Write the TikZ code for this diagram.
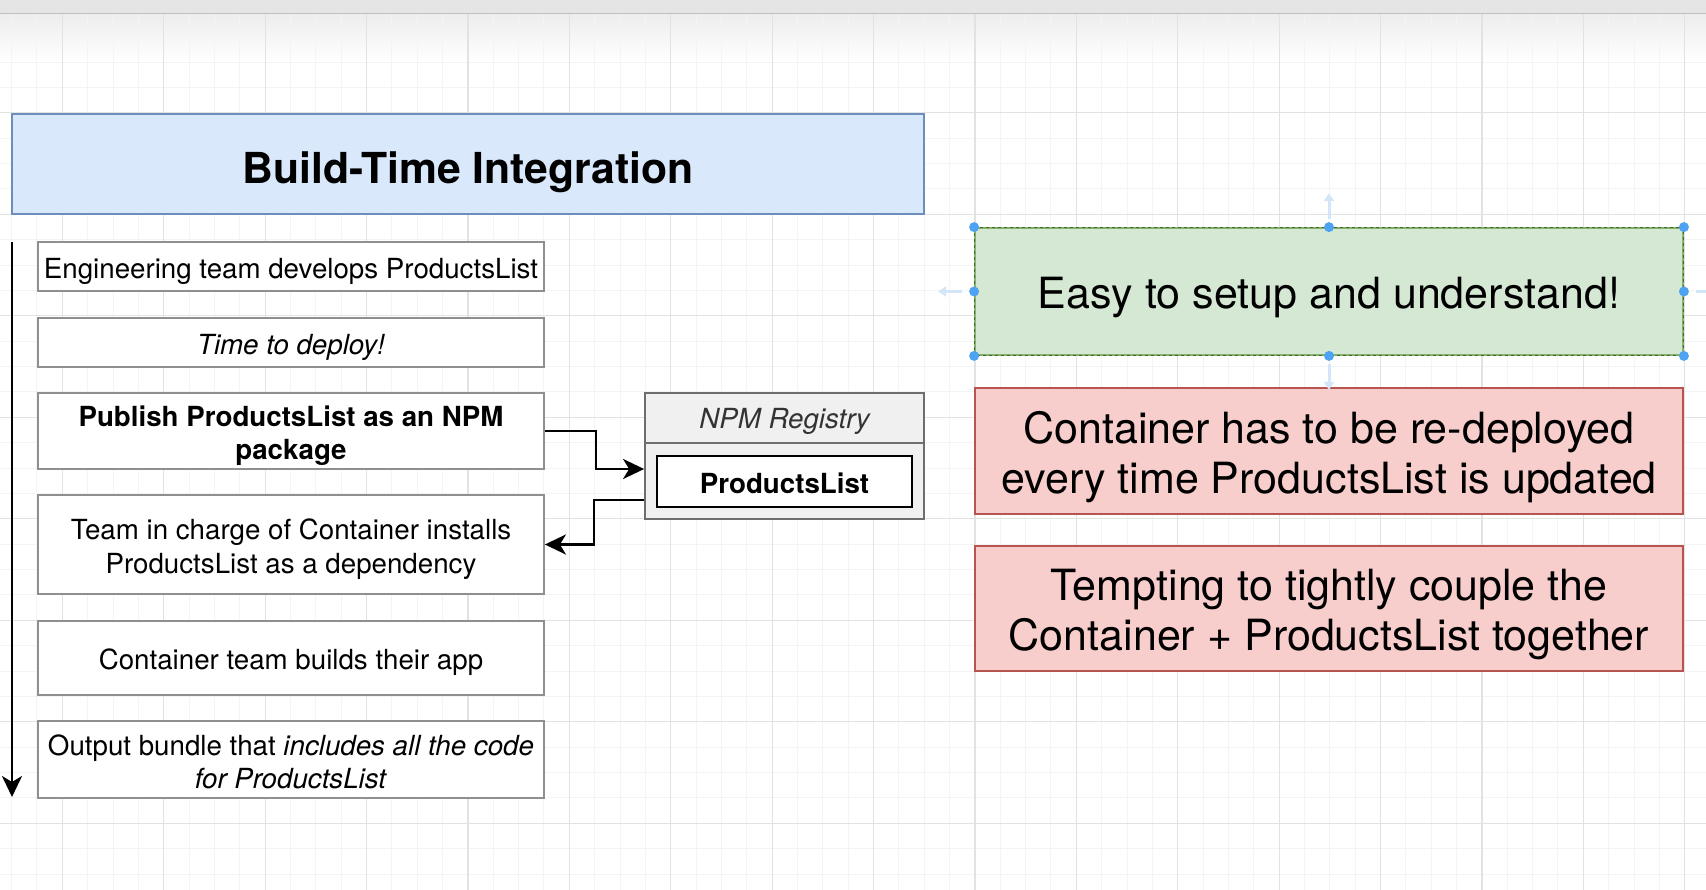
\documentclass[tikz,border=0pt]{standalone}
\usepackage{fontspec}
\setmainfont{TeX Gyre Heros}
\usetikzlibrary{arrows.meta,calc}
\definecolor{bluefill}{HTML}{DAE8FC}
\definecolor{bluedraw}{HTML}{6C8EBF}
\definecolor{greenfill}{HTML}{D5E8D4}
\definecolor{greendraw}{HTML}{82B366}
\definecolor{redfill}{HTML}{F8CECC}
\definecolor{reddraw}{HTML}{B85450}
\definecolor{stepgray}{HTML}{8F8F8F}
\definecolor{npmfill}{HTML}{F0F0F0}
\definecolor{npmdraw}{HTML}{6E6E6E}
\definecolor{npmtext}{HTML}{333333}
\definecolor{handle}{HTML}{4DA3F2}
\definecolor{ghostblue}{HTML}{D3E6F8}
\definecolor{gridminor}{HTML}{F4F4F4}
\definecolor{gridmajor}{HTML}{E2E2E2}
\begin{document}
\begin{tikzpicture}[x=1pt,y=-1pt,
  stepbox/.style={draw=stepgray,line width=1.8pt,fill=white,minimum width=506pt,inner sep=0pt},
  steptext/.style={inner sep=0pt,align=center,yshift=-4.5pt,font=\fontsize{27.7}{33.5}\selectfont},
  bigbox/.style={line width=1.8pt,minimum width=708pt,inner sep=0pt},
  bigtext/.style={inner sep=0pt,align=center,yshift=-6.5pt,font=\fontsize{43}{50}\selectfont},
  conn/.style={line width=2.7pt,-{Stealth[length=21pt,width=20pt,inset=6pt]}},
  ghost/.style={ghostblue,line width=3pt,-{Triangle[length=8pt,width=10pt]}},
  minorline/.style={gridminor,line width=1pt},
  majorline/.style={gridmajor,line width=1.2pt}]
\useasboundingbox (0,0) rectangle (1706,890);
\fill[white] (0,0) rectangle (1706,890);
\shade[top color=black!7,bottom color=white] (0,14) rectangle (1706,62);
% grid
\foreach \i in {-2,...,65} \draw[minorline] ({62.3+25.35*\i},14) -- ({62.3+25.35*\i},890);
\foreach \j in {1,...,35} \draw[minorline] (0,{11.3+25.375*\j}) -- (1706,{11.3+25.375*\j});
\foreach \i in {0,...,16} \draw[majorline] ({62.3+101.4*\i},14) -- ({62.3+101.4*\i},890);
\foreach \j in {1,...,8} \draw[majorline] (0,{11.3+101.5*\j}) -- (1706,{11.3+101.5*\j});
% top band
\fill[black!10] (0,0) rectangle (1706,13);
\draw[black!25,line width=1.5pt] (0,13.5) -- (1706,13.5);

% title
\node[draw=bluedraw,fill=bluefill,line width=1.8pt,minimum width=912pt,minimum height=100pt,inner sep=0pt] (title) at (468,164) {};
\node[inner sep=0pt,yshift=-8pt,font=\bfseries\fontsize{42.7}{50}\selectfont] (titletext) at (title.center) {Build-Time Integration};

% timeline
\coordinate (vtop) at (12,242);
\coordinate (vbot) at (12,797);
\draw[conn] (vtop) -- (vbot);

% steps
\node[stepbox,minimum height=49pt] (b1) at (291,266.5) {};
\node[steptext] (t1) at (b1.center) {Engineering team develops ProductsList};
\node[stepbox,minimum height=49pt] (b2) at (291,342.5) {};
\node[steptext] (t2) at (b2.center) {\itshape Time to deploy!};
\node[stepbox,minimum height=76pt] (b3) at (291,431) {};
\node[steptext] (t3) at (b3.center) {\bfseries Publish ProductsList as an NPM\\\bfseries package};
\node[stepbox,minimum height=99pt] (b4) at (291,544.5) {};
\node[steptext] (t4) at (b4.center) {Team in charge of Container installs\\ProductsList as a dependency};
\node[stepbox,minimum height=74pt] (b5) at (291,658) {};
\node[steptext] (t5) at (b5.center) {Container team builds their app};
\node[stepbox,minimum height=77pt] (b6) at (291,759.5) {};
\node[steptext,yshift=2pt] (t6) at (b6.center) {Output bundle that \textit{includes all the code}\\\textit{for ProductsList}};

% NPM registry
\node[draw=npmdraw,fill=npmfill,line width=1.8pt,minimum width=279pt,minimum height=126pt,inner sep=0pt] (npm) at (784.5,456) {};
\node[draw=npmdraw,fill=npmfill,line width=1.8pt,minimum width=279pt,minimum height=50pt,inner sep=0pt] (npmhead) at (784.5,418) {};
\node[inner sep=0pt,yshift=-3.5pt,text=npmtext,font=\itshape\fontsize{27.7}{33}\selectfont] (npmtitle) at (npmhead.center) {NPM Registry};
\node[draw=black,fill=white,line width=2.4pt,minimum width=255pt,minimum height=51pt,inner sep=0pt] (pl) at (784.5,481.5) {};
\node[inner sep=0pt,yshift=-1.5pt,font=\bfseries\fontsize{27.7}{33}\selectfont] (pltext) at (pl.center) {ProductsList};

% connectors
\draw[conn] (b3.east) -- ++(51,0) |- ([yshift=-13pt]npm.west);
\draw[conn] ([yshift=-44pt]npm.west) -- ++(-50,0) |- (b4.east);

% right side
\node[bigbox,fill=greenfill,draw=greendraw,minimum height=127pt] (easy) at (1329,291.5) {};
\draw[black!45!greendraw,line width=1pt,dash pattern=on 3pt off 3pt] (easy.north west) rectangle (easy.south east);
\node[bigtext] (easytext) at (easy.center) {Easy to setup and understand!};
\node[bigbox,fill=redfill,draw=reddraw,minimum height=126pt] (red1) at (1329,451) {};
\node[bigtext] (red1text) at (red1.center) {Container has to be re-deployed\\every time ProductsList is updated};
\node[bigbox,fill=redfill,draw=reddraw,minimum height=125pt] (red2) at (1329,608.5) {};
\node[bigtext] (red2text) at (red2.center) {Tempting to tightly couple the\\Container + ProductsList together};

% selection handles
\draw[ghost] ([yshift=8pt]easy.north) -- ++(0,-26);
\draw[ghost] ([xshift=-12pt]easy.west) -- ++(-24,0);
\draw[ghost] ([yshift=-8pt]easy.south) -- ++(0,26);
\draw[ghostblue,line width=3pt] ([xshift=12pt]easy.east) -- ++(10,0);
\foreach \a in {north west,north,north east,east,south east,south,south west,west}
  \fill[handle] (easy.\a) circle (5pt);
\end{tikzpicture}
\end{document}
